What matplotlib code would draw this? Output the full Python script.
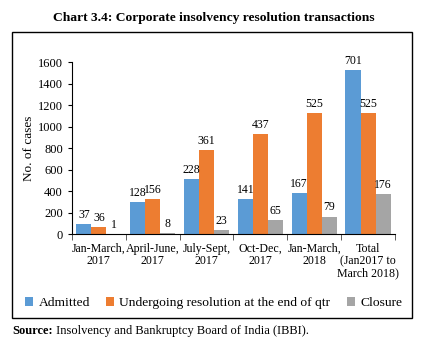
import numpy as np
import matplotlib.pyplot as plt
from matplotlib.patches import Rectangle
from matplotlib.transforms import offset_copy

plt.rcParams['font.family'] = ['Liberation Serif', 'DejaVu Serif']

categories = ['Jan-March,\n2017', 'April-June,\n2017', 'July-Sept,\n2017',
              'Oct-Dec,\n2017', 'Jan-March,\n2018', 'Total\n(Jan2017 to\nMarch 2018)']
series = ['Admitted', 'Undergoing resolution at the end of qtr', 'Closure']

# bar heights as drawn in the chart
admitted_h = [98, 300, 516, 328, 383, 1525]
undergoing_h = [65, 328, 780, 934, 1129, 1129]
closure_h = [3, 10, 40, 133, 164, 371]

# values printed on the bars
admitted_lbl = [37, 128, 228, 141, 167, 701]
undergoing_lbl = [36, 156, 361, 437, 525, 525]
closure_lbl = [1, 8, 23, 65, 79, 176]

colours = ['#5B9BD5', '#ED7D31', '#A5A5A5']

fig = plt.figure(figsize=(4.27, 3.48), dpi=100)
ax = fig.add_axes([0.1686, 0.3267, 0.7564, 0.4951])

x = np.arange(len(categories))
w = 0.28
heights = [admitted_h, undergoing_h, closure_h]
labels = [admitted_lbl, undergoing_lbl, closure_lbl]
for i in range(3):
    bars = ax.bar(x + (i - 1) * w, heights[i], w, color=colours[i], label=series[i])
    for b, v in zip(bars, labels[i]):
        ax.text(b.get_x() + b.get_width() / 2, b.get_height() + 30, str(v),
                ha='center', va='bottom', fontsize=8.5)

ax.set_xlim(-0.5, len(categories) - 0.5)
ax.set_ylim(0, 1600)
ax.set_yticks(range(0, 1601, 200))
ax.tick_params(axis='y', labelsize=9, length=3)
ax.set_xticks(x)
ax.set_xticklabels(categories, fontsize=8.6, linespacing=1.05)
ax.tick_params(axis='x', length=0, pad=6)
ax.set_xticks(np.arange(-0.5, len(categories), 1), minor=True)
ax.tick_params(axis='x', which='minor', length=4, color='#444444')
ax.set_ylabel('No. of cases', fontsize=9.5, labelpad=2)
ax.spines['top'].set_visible(False)
ax.spines['right'].set_visible(False)

fig.legend(loc='center', bbox_to_anchor=(0.5, 0.128), ncol=3, frameon=False,
           fontsize=9.7, handlelength=0.6, handleheight=0.6, handletextpad=0.4,
           columnspacing=1.2)

fig.patches.append(Rectangle((0.028, 0.086), 0.937, 0.822, transform=fig.transFigure,
                             fill=False, edgecolor='black', linewidth=1))
fig.text(0.5, 0.948, 'Chart 3.4: Corporate insolvency resolution transactions',
         ha='center', va='center', fontsize=9.7, fontweight='bold')

src = fig.text(0.028, 0.049, 'Source:', ha='left', va='center',
               fontsize=9, fontweight='bold')
fig.canvas.draw()
sw = src.get_window_extent().width
fig.text(0.028, 0.049, ' Insolvency and Bankruptcy Board of India (IBBI).',
         ha='left', va='center', fontsize=9,
         transform=offset_copy(fig.transFigure, fig=fig, x=sw, y=0, units='dots'))

fig.savefig('out.png', dpi=100)
